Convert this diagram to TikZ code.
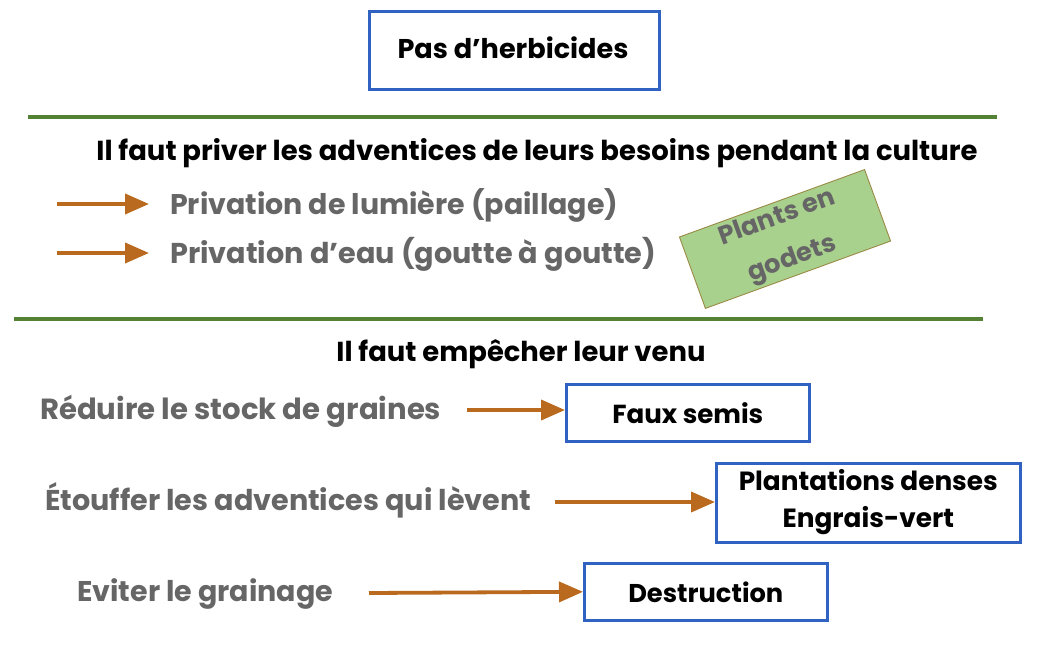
\documentclass[tikz,border=0pt]{standalone}
\usepackage{fontspec}
\setmainfont{Poppins}
\usepackage{graphicx}
\usetikzlibrary{arrows.meta}
\definecolor{boxblue}{HTML}{3062C2}
\definecolor{linegreen}{HTML}{548235}
\definecolor{arrorange}{HTML}{BA6A1E}
\definecolor{txtgray}{HTML}{666666}
\definecolor{tagfill}{HTML}{A9D18E}
\definecolor{tagedge}{HTML}{9A8A45}
\newcommand\fitto[2]{\resizebox{#1}{!}{#2}}
\tikzset{
  bluebox/.style={draw=boxblue, line width=2.6pt, fill=white, inner sep=0pt, anchor=north west},
  sepline/.style={draw=linegreen, line width=3.6pt},
  orarrow/.style={draw=arrorange, line width=3.8pt, -{Triangle[length=24pt,width=20pt]}},
  graytxt/.style={text=txtgray, font=\bfseries, inner sep=0pt, anchor=west},
  blacktxt/.style={text=black, font=\bfseries, inner sep=0pt},
  tagbox/.style={draw=tagedge, line width=0.9pt, fill=tagfill, minimum width=197pt, minimum height=76pt, rotate=20, text=txtgray, font=\bfseries, align=center, inner sep=0pt}
}
\begin{document}
\begin{tikzpicture}[x=1pt,y=-1pt]
\useasboundingbox[fill=white] (0,0) rectangle (1043,658);
% top box
\node[bluebox, minimum width=290pt, minimum height=78pt] (top) at (368,10) {};
\node[blacktxt] (toptxt) at (513,48) {\fitto{231pt}{Pas d’herbicides}};
% separators
\coordinate (l1a) at (28,117); \coordinate (l1b) at (997,117);
\draw[sepline] (l1a) -- (l1b);
\coordinate (l2a) at (14,319); \coordinate (l2b) at (983,319);
\draw[sepline] (l2a) -- (l2b);
% section 1
\node[blacktxt] (t1) at (537,153) {\fitto{881pt}{Il faut priver les adventices de leurs besoins pendant la culture}};
\node[graytxt] (p1) at (170,205) {\fitto{448pt}{Privation de lumière (paillage)}};
\node[graytxt] (p2) at (170,254) {\fitto{486pt}{Privation d’eau (goutte à goutte)}};
\coordinate (a1s) at (57,204); \coordinate (a1e) at (149,204);
\coordinate (a2s) at (57,253); \coordinate (a2e) at (149,253);
\draw[orarrow] (a1s) -- (a1e);
\draw[orarrow] (a2s) -- (a2e);
\node[tagbox] (tag) at (785,239) {\fitto{122pt}{\begin{tabular}{@{}c@{}}Plants en\\[5pt]godets\end{tabular}}};
% section 2
\node[blacktxt] (t2) at (521,354) {\fitto{369pt}{Il faut empêcher leur venu}};
\node[graytxt] (r1) at (40,411) {\fitto{401pt}{Réduire le stock de graines}};
\node[graytxt] (r2) at (45,500) {\fitto{486pt}{Étouffer les adventices qui lèvent}};
\node[graytxt] (r3) at (77,594) {\fitto{256pt}{Eviter le grainage}};
\node[bluebox, minimum width=243pt, minimum height=57pt] (b1) at (565,383) {};
\node[blacktxt] at (b1.center) (b1t) {\fitto{151pt}{Faux semis}};
\node[bluebox, minimum width=304pt, minimum height=79pt] (b2) at (715,462) {};
\node[blacktxt] at (b2.center) (b2t) {\fitto{259pt}{\begin{tabular}{@{}c@{}}Plantations denses\\[2pt]Engrais-vert\end{tabular}}};
\node[bluebox, minimum width=243pt, minimum height=57pt] (b3) at (583,562) {};
\node[blacktxt] at (b3.center) (b3t) {\fitto{155pt}{Destruction}};
\coordinate (c1) at (467,410);
\coordinate (c2) at (555,502);
\coordinate (c3) at (369,593);
\draw[orarrow] (c1) -- (b1.west |- c1);
\draw[orarrow] (c2) -- (b2.west |- c2);
\draw[orarrow] (c3) -- (b3.west);
\end{tikzpicture}
\end{document}
